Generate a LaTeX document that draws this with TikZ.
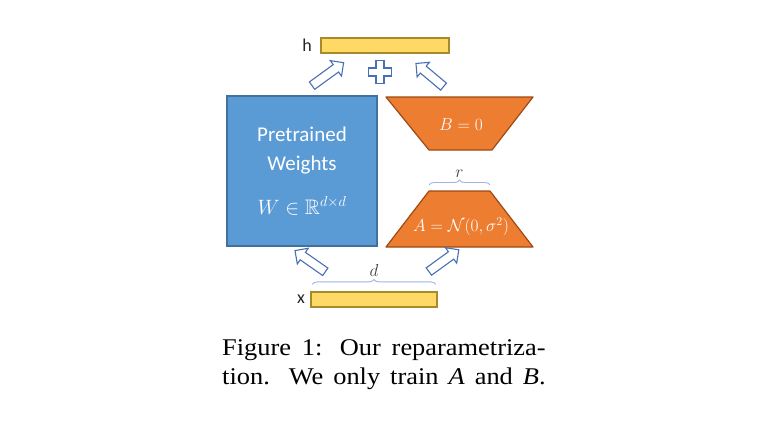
\documentclass[tikz,border=0pt]{standalone}
\usepackage{amsmath,amssymb}
\usepackage{fontspec}
\setmainfont{Liberation Serif}
\newfontfamily\calfont{Carlito}
\usetikzlibrary{positioning,shapes.arrows,decorations.pathreplacing}
\definecolor{wblue}{HTML}{5B9BD5}
\definecolor{wblueline}{HTML}{41719C}
\definecolor{lorange}{HTML}{ED7D31}
\definecolor{lorangeline}{HTML}{9E4A14}
\definecolor{vyellow}{HTML}{FFD966}
\definecolor{vyellowline}{HTML}{A8892C}
\definecolor{harrow}{HTML}{4A6FB5}
\definecolor{bracecol}{HTML}{9DB7E0}
\tikzset{wbox/.style={draw=wblueline,fill=wblue,line width=1.5pt,minimum width=150pt,
 minimum height=150pt,align=center,text=white,font=\calfont\fontsize{21}{29}\selectfont},
 trap/.style={draw=lorangeline,fill=lorange,line width=1.2pt,line join=round},
 trtext/.style={text=white,font=\fontsize{17}{20}\selectfont},
 vec/.style={draw=vyellowline,fill=vyellow,line width=1.2pt,minimum height=15pt,inner sep=0pt},
 lbl/.style={font=\calfont\fontsize{18}{20}\selectfont,text=black!85},
 dimlbl/.style={font=\fontsize{16}{18}\selectfont,text=black!75},
 hollow/.style={single arrow,draw=harrow,fill=white,line width=1.1pt,inner xsep=0pt,
 inner ysep=4pt,single arrow head extend=5pt},
 brc/.style={draw=bracecol,line width=0.9pt,decorate,decoration={brace,amplitude=5pt}},
 captext/.style={anchor=base west,inner sep=0pt,font=\fontsize{24}{28}\selectfont}}
\newcommand{\capline}[1]{\scalebox{1.1}[1]{\makebox[294pt][s]{#1}}}

\begin{document}
\begin{tikzpicture}[x=1pt,y=-1pt]
\fill[white] (0,0) rectangle (779,424);
\useasboundingbox (0,0) rectangle (779,424);
% vectors h and x
\node[vec,minimum width=128pt] (hbar) at (385,45.5) {};
\node[lbl,left=5pt of hbar] (hlab) {h};
\node[vec,minimum width=126pt] (xbar) at (374,299.5) {};
\node[lbl,left=2pt of xbar] (xlab) {x};
% pretrained weights
\node[wbox] (W) at (302,171) {Pretrained\\Weights\\[15pt]$W\in\mathbb{R}^{d\times d}$};
% low-rank factors
\draw[trap] (386,97) coordinate (b1) -- (533,97) coordinate (b2) -- (492,150) coordinate (b3) -- (429,150) coordinate (b4) -- cycle;
\node[trtext] (B) at (461,125) {$B=0$};
\draw[trap] (429,191) coordinate (a1) -- (490,191) coordinate (a2) -- (533,247) coordinate (a3) -- (386,247) coordinate (a4) -- cycle;
\node[trtext] (A) at (461,227) {$A=\mathcal{N}(0,\sigma^2)$};
% braces
\draw[brc] ([yshift=6pt]a1) -- ([yshift=6pt]a2) node[midway,above=4pt,dimlbl] (rlab) {$r$};
\draw[brc] ([yshift=7pt,xshift=2pt]xbar.north west) -- ([yshift=7pt,xshift=-2pt]xbar.north east) node[midway,above=4pt,dimlbl] (dlab) {$d$};
% block arrows
\node[hollow,minimum height=39pt,rotate=36] (up1) at (326,75.5) {};
\node[hollow,minimum height=36pt,rotate=140] (up2) at (431.5,76.5) {};
\node[hollow,minimum height=37pt,rotate=145] (in1) at (312,262.5) {};
\node[hollow,minimum height=37pt,rotate=36] (in2) at (442,262) {};
\coordinate (plus) at (380,72);
\draw[harrow,fill=white,line width=1.1pt,shift={(plus)}] (-4,-11.5) -- (4,-11.5) -- (4,-4) -- (11.5,-4) -- (11.5,4) -- (4,4) -- (4,11.5) -- (-4,11.5) -- (-4,4) -- (-11.5,4) -- (-11.5,-4) -- (-4,-4) -- cycle;
% caption
\node[captext] (cap1) at (222,355.5) {\capline{Figure 1: Our reparametriza-}};
\node[captext] (cap2) at (222,384) {\capline{tion. We only train \textit{A} and \textit{B}.}};
\end{tikzpicture}
\end{document}
